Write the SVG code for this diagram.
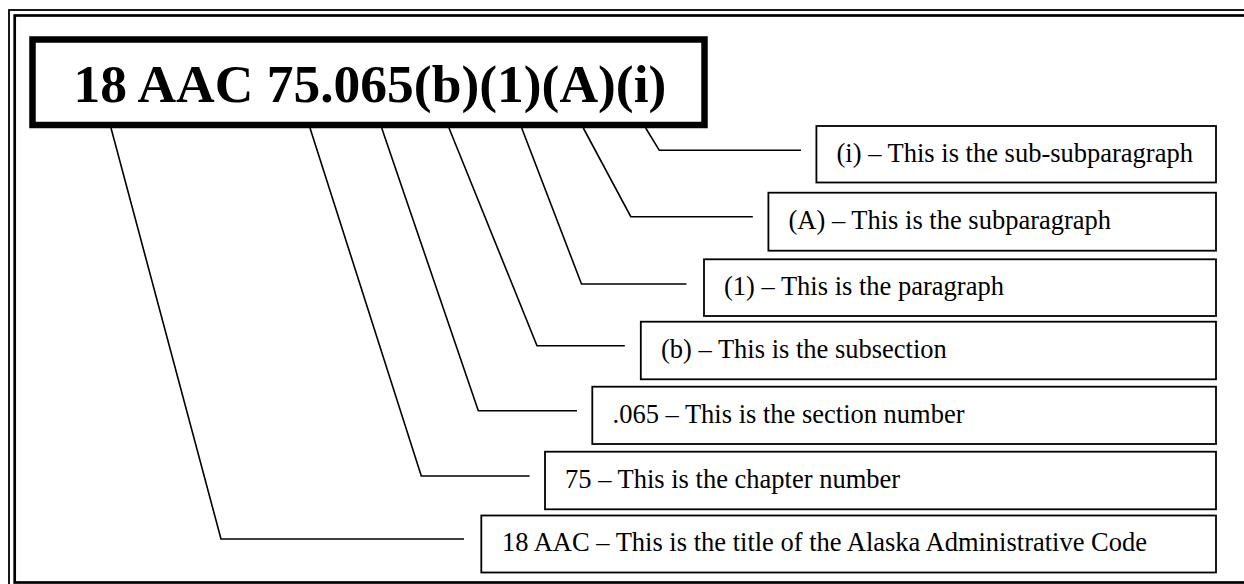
<svg xmlns="http://www.w3.org/2000/svg" width="1244" height="584" viewBox="0 0 1244 584">
<style>
.frame{fill:none;stroke:#000}
.lbl{fill:#fff;stroke:#000;stroke-width:1.8}
.lt{font-family:"Liberation Serif","Times New Roman",serif;font-size:26.5px;fill:#000}
.conn path{fill:none;stroke:#000;stroke-width:1.6}
</style>
<rect width="1244" height="584" fill="#fff"/>
<rect class="frame" x="9" y="10" width="1250" height="590" stroke-width="1.8"/>
<rect class="frame" x="14.7" y="15.5" width="1240" height="567" stroke-width="2.7"/>
<g id="code">
<rect x="32.5" y="39.5" width="672" height="85.5" fill="#fff" stroke="#000" stroke-width="6.5"/>
<text x="73.5" y="101.7" font-family="Liberation Serif,'Times New Roman',serif" font-weight="bold" font-size="53.5">18 AAC 75.065(b)(1)(A)(i)</text>
</g>
<g class="conn" id="connectors">
<path d="M645.7,128 L659.3,150.3 L801,150.3"/>
<path d="M583.3,128 L630.8,216.7 L752.8,216.7"/>
<path d="M521.7,128 L581.5,284 L686.4,284"/>
<path d="M449,128 L537,345.7 L624.8,345.7"/>
<path d="M381.7,128 L478.3,410.7 L577,410.7"/>
<path d="M310,128 L421.3,476 L529.6,476"/>
<path d="M111,128 L221,539 L464,539"/>
</g>
<g id="n-i"><rect class="lbl" x="816.4" y="126" width="399.6" height="56.5"/><text class="lt" x="836.5" y="161.5">(i) – This is the sub-subparagraph</text></g>
<g id="n-A"><rect class="lbl" x="768.4" y="192.7" width="447.6" height="58"/><text class="lt" x="788.5" y="228.5">(A) – This is the subparagraph</text></g>
<g id="n-1"><rect class="lbl" x="704" y="259.3" width="512" height="56.7"/><text class="lt" x="724" y="295">(1) – This is the paragraph</text></g>
<g id="n-b"><rect class="lbl" x="640.8" y="321.7" width="575.2" height="57.6"/><text class="lt" x="661" y="357.5">(b) – This is the subsection</text></g>
<g id="n-065"><rect class="lbl" x="592.3" y="386.7" width="623.7" height="57.3"/><text class="lt" x="612.5" y="422.5">.065 – This is the section number</text></g>
<g id="n-75"><rect class="lbl" x="545" y="451.7" width="671" height="57.6"/><text class="lt" x="565" y="487.5">75 – This is the chapter number</text></g>
<g id="n-18"><rect class="lbl" x="481.3" y="515.5" width="734.7" height="57"/><text class="lt" x="502" y="551">18 AAC – This is the title of the Alaska Administrative Code</text></g>
</svg>
